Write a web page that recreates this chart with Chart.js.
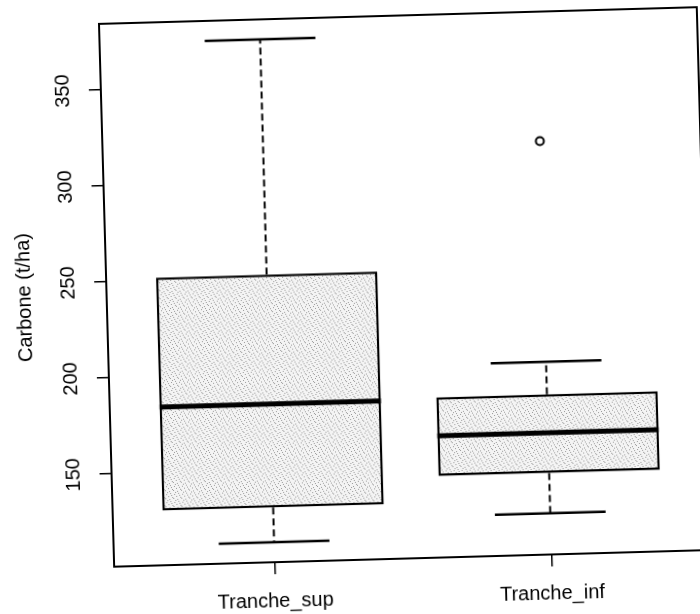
<!DOCTYPE html>
<html>
<head>
<meta charset="utf-8">
<title>Carbone par tranche</title>
<script src="https://cdn.jsdelivr.net/npm/chart.js@4/dist/chart.umd.min.js"></script>
<style>
  html, body { margin: 0; padding: 0; background: #fff; overflow: hidden; width: 700px; height: 614px; }
  #plot { position: absolute; left: 0; top: 0; width: 720px; height: 640px;
          transform: rotate(-1.6deg); transform-origin: 350px 307px; }
</style>
</head>
<body>
<canvas id="plot" width="720" height="640"></canvas>
<script>
// Box-plot statistics for each slice (t/ha)
const categories   = ['Tranche_sup', 'Tranche_inf'];
const whiskerLow   = [112, 123];
const quartile1    = [130, 144];
const medians      = [184, 165];
const quartile3    = [251.5, 185];
const whiskerHigh  = [374, 202];
const outliers     = [[], [317]];
const yTickValues  = [150, 200, 250, 300, 350];

// y range padded by 4% on each side, as in a base-R box plot
const allValues = whiskerLow.concat(whiskerHigh, ...outliers);
const dataMin = Math.min(...allValues), dataMax = Math.max(...allValues);
const pad = (dataMax - dataMin) * 0.04;

const BOX_HALF = 0.4, CAP_HALF = 0.2;
const FONT = "'Liberation Sans', Arial, Helvetica, sans-serif";

const canvas = document.getElementById('plot');
const ctx = canvas.getContext('2d');

// Light grey stipple used to fill the boxes
function stipple() {
  const t = document.createElement('canvas');
  t.width = 8; t.height = 8;
  const c = t.getContext('2d');
  c.fillStyle = '#f4f4f4'; c.fillRect(0, 0, 8, 8);
  c.fillStyle = '#9a9a9a';
  [[1,1],[5,0],[3,3],[7,4],[0,5],[4,6],[6,2],[2,7]].forEach(([x, y]) => c.fillRect(x, y, 1, 1));
  return ctx.createPattern(t, 'repeat');
}

// Segments: vertical whiskers, horizontal caps and medians (null breaks the line)
const whiskerPts = [], capPts = [], medianPts = [];
categories.forEach((_, i) => {
  const x = i + 1;
  whiskerPts.push({x, y: quartile3[i]}, {x, y: whiskerHigh[i]}, {x, y: null},
                  {x, y: quartile1[i]}, {x, y: whiskerLow[i]}, {x, y: null});
  capPts.push({x: x - CAP_HALF, y: whiskerHigh[i]}, {x: x + CAP_HALF, y: whiskerHigh[i]}, {x, y: null},
              {x: x - CAP_HALF, y: whiskerLow[i]}, {x: x + CAP_HALF, y: whiskerLow[i]}, {x, y: null});
  medianPts.push({x: x - BOX_HALF, y: medians[i]}, {x: x + BOX_HALF, y: medians[i]}, {x, y: null});
});
const outlierPts = [];
outliers.forEach((list, i) => list.forEach(v => outlierPts.push({x: i + 1, y: v})));

// Full box frame around the plot region and vertical y tick labels
const frameAndLabels = {
  id: 'frameAndLabels',
  afterDraw(chart) {
    const {ctx: g, chartArea: a, scales: {y}} = chart;
    g.save();
    g.strokeStyle = '#000';
    g.lineWidth = 2;
    g.strokeRect(a.left, a.top, a.right - a.left, a.bottom - a.top);
    g.font = '20px ' + FONT;
    g.fillStyle = '#000';
    g.textAlign = 'center';
    g.textBaseline = 'middle';
    y.ticks.forEach(t => {
      g.save();
      g.translate(a.left - 37.5, y.getPixelForValue(t.value));
      g.rotate(-Math.PI / 2);
      g.fillText(String(t.value), 0, 0);
      g.restore();
    });
    g.restore();
  }
};

Chart.defaults.font.family = FONT;
Chart.defaults.font.size = 20;
Chart.defaults.color = '#000';

new Chart(ctx, {
  type: 'bar',
  data: {
    datasets: [
      {
        type: 'line', label: 'median', data: medianPts, order: 0,
        borderColor: '#000', borderWidth: 5, borderCapStyle: 'butt',
        pointRadius: 0, spanGaps: false, fill: false
      },
      {
        type: 'line', label: 'whiskers', data: whiskerPts, order: 1,
        borderColor: '#000', borderWidth: 2, borderDash: [7, 4],
        pointRadius: 0, spanGaps: false, fill: false
      },
      {
        type: 'line', label: 'caps', data: capPts, order: 1,
        borderColor: '#000', borderWidth: 2.5, borderCapStyle: 'butt',
        pointRadius: 0, spanGaps: false, fill: false
      },
      {
        type: 'scatter', label: 'outliers', data: outlierPts, order: 1,
        pointRadius: 4, pointBorderWidth: 2, pointBorderColor: '#000',
        pointBackgroundColor: 'rgba(0,0,0,0)'
      },
      {
        type: 'bar', label: 'boxes', order: 3,
        data: categories.map((_, i) => ({x: i + 1, y: [quartile1[i], quartile3[i]]})),
        backgroundColor: stipple(), borderColor: '#000', borderWidth: 2.5,
        borderSkipped: false, barPercentage: 2 * BOX_HALF, categoryPercentage: 1
      }
    ]
  },
  options: {
    responsive: false,
    animation: false,
    devicePixelRatio: 1,
    layout: { padding: { top: 17, right: 15, bottom: 0, left: 0 } },
    plugins: { legend: { display: false }, tooltip: { enabled: false } },
    scales: {
      x: {
        type: 'linear', min: 0.42, max: 2.58, offset: false,
        afterBuildTicks: s => { s.ticks = categories.map((_, i) => ({value: i + 1})); },
        afterFit: s => { s.height = 80; },
        ticks: { callback: v => categories[v - 1] ?? '', autoSkip: false, maxRotation: 0, padding: 15,
                 font: { size: 20 } },
        grid: { offset: false, drawOnChartArea: false, drawTicks: true, tickLength: 12, color: '#000', lineWidth: 1.5 },
        border: { display: false }
      },
      y: {
        type: 'linear', min: dataMin - pad, max: dataMax + pad,
        afterBuildTicks: s => { s.ticks = yTickValues.map(v => ({value: v})); },
        afterFit: s => { s.width = 107; },
        ticks: { display: false },
        grid: { drawOnChartArea: false, drawTicks: true, tickLength: 12, color: '#000', lineWidth: 1.5 },
        border: { display: false },
        title: { display: true, text: 'Carbone (t/ha)', font: { size: 20 }, padding: { top: 13.5, bottom: 0 } }
      }
    }
  },
  plugins: [frameAndLabels]
});
</script>
</body>
</html>
